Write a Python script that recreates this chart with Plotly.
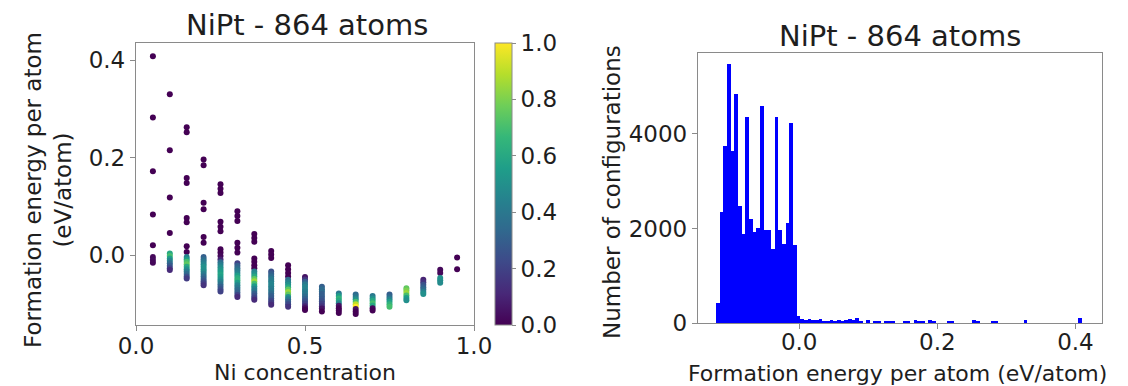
import numpy as np
import plotly.graph_objects as go

# ---- Left panel: formation energy vs Ni concentration ----
ni_conc = [0.05, 0.10, 0.15, 0.20, 0.25, 0.30, 0.35, 0.40, 0.45, 0.50,
           0.55, 0.60, 0.65, 0.70, 0.75, 0.80, 0.85, 0.90, 0.95]

formation_energy = [
    [0.408, 0.282, 0.172, 0.083, 0.020, -0.004, -0.010, -0.016],
    [0.330, 0.215, 0.118, 0.045, 0.003, -0.002, -0.007, -0.012, -0.017, -0.022, -0.027, -0.031],
    [0.262, 0.252, 0.158, 0.148, 0.076, 0.067, 0.018, 0.006,
     -0.004, -0.009, -0.014, -0.019, -0.024, -0.029, -0.034, -0.039, -0.044, -0.048],
    [0.196, 0.184, 0.107, 0.094, 0.037, 0.025,
     -0.004, -0.009, -0.014, -0.019, -0.024, -0.029, -0.034, -0.039, -0.044, -0.049, -0.054, -0.058, -0.062],
    [0.145, 0.136, 0.127, 0.068, 0.058, 0.049, 0.012, 0.005, -0.002, -0.009,
     -0.015, -0.020, -0.025, -0.030, -0.035, -0.040, -0.045, -0.050, -0.055, -0.060, -0.065, -0.070, -0.075],
    [0.090, 0.080, 0.070, 0.025, 0.015, 0.005,
     -0.017, -0.022, -0.027, -0.032, -0.037, -0.042, -0.047, -0.052, -0.057, -0.062, -0.067, -0.072, -0.077, -0.082, -0.086],
    [0.043, 0.035, 0.027, -0.007, -0.014, -0.021, -0.027,
     -0.034, -0.039, -0.044, -0.049, -0.054, -0.059, -0.064, -0.069, -0.074, -0.079, -0.084, -0.088, -0.092],
    [0.008, 0.001, -0.006,
     -0.034, -0.039, -0.044, -0.049, -0.054, -0.059, -0.064, -0.069, -0.074, -0.079, -0.084, -0.089, -0.094, -0.098, -0.102],
    [-0.021, -0.029, -0.037, -0.044,
     -0.051, -0.056, -0.061, -0.066, -0.071, -0.076, -0.081, -0.086, -0.091, -0.096, -0.101, -0.106],
    [-0.045, -0.050, -0.055, -0.060, -0.065, -0.070, -0.075, -0.080, -0.085, -0.090, -0.095, -0.100, -0.105, -0.109, -0.113],
    [-0.065, -0.070, -0.075, -0.080, -0.085, -0.090, -0.095, -0.100, -0.105, -0.110, -0.116],
    [-0.079, -0.084, -0.089, -0.094, -0.099, -0.104, -0.109, -0.114, -0.119],
    [-0.081, -0.086, -0.091, -0.096, -0.101, -0.106, -0.111, -0.116, -0.121],
    [-0.084, -0.089, -0.094, -0.099, -0.104, -0.109, -0.114],
    [-0.081, -0.086, -0.091, -0.096, -0.101, -0.106],
    [-0.068, -0.073, -0.078, -0.083, -0.088, -0.093],
    [-0.051, -0.056, -0.061, -0.066, -0.071, -0.076, -0.080],
    [-0.030, -0.037, -0.047, -0.052, -0.057],
    [-0.005, -0.029],
]

config_weight = [
    [0, 0, 0, 0, 0, 0.02, 0.03, 0.02],
    [0, 0, 0, 0, 0.60, 0.70, 0.55, 0.45, 0.35, 0.28, 0.20, 0.12],
    [0, 0, 0, 0, 0, 0, 0, 0,
     0.45, 0.55, 0.70, 0.75, 0.60, 0.50, 0.42, 0.35, 0.25, 0.18],
    [0, 0, 0, 0, 0, 0,
     0.30, 0.35, 0.40, 0.45, 0.50, 0.50, 0.48, 0.42, 0.35, 0.30, 0.25, 0.20, 0.15],
    [0, 0, 0, 0, 0, 0, 0, 0, 0.02, 0.10,
     0.35, 0.42, 0.48, 0.52, 0.55, 0.58, 0.55, 0.50, 0.45, 0.38, 0.30, 0.25, 0.20],
    [0, 0, 0, 0, 0, 0,
     0.20, 0.30, 0.35, 0.40, 0.45, 0.55, 0.62, 0.65, 0.55, 0.45, 0.40, 0.35, 0.30, 0.20, 0.12],
    [0, 0, 0, 0, 0, 0, 0,
     0.45, 0.50, 0.60, 0.75, 0.85, 0.70, 0.55, 0.45, 0.40, 0.30, 0.25, 0.20, 0.12],
    [0, 0, 0,
     0.25, 0.30, 0.35, 0.40, 0.42, 0.45, 0.45, 0.42, 0.40, 0.35, 0.30, 0.28, 0.22, 0.18, 0.12],
    [0, 0, 0, 0,
     0.35, 0.45, 0.50, 0.60, 0.75, 0.85, 0.75, 0.50, 0.40, 0.30, 0.22, 0.15],
    [0.05, 0.15, 0.30, 0.40, 0.45, 0.45, 0.42, 0.40, 0.35, 0.30, 0.25, 0.20, 0.10, 0.03, 0.0],
    [0.30, 0.35, 0.35, 0.30, 0.30, 0.28, 0.25, 0.20, 0.15, 0.05, 0.0],
    [0.40, 0.55, 0.65, 0.60, 0.45, 0.05, 0.0, 0.0, 0.0],
    [0.35, 0.40, 0.50, 0.70, 0.90, 1.0, 0.05, 0.0, 0.0],
    [0.40, 0.50, 0.60, 0.70, 0.60, 0.02, 0.0],
    [0.30, 0.35, 0.45, 0.55, 0.65, 0.70],
    [0.75, 0.80, 0.85, 0.70, 0.55, 0.50],
    [0.10, 0.15, 0.25, 0.30, 0.35, 0.45, 0.50],
    [0.02, 0.02, 0.50, 0.50, 0.48],
    [0, 0],
]

# ---- Right panel: histogram of formation energies ----
hist_first_edge = -0.1203
hist_bin_width = 0.0053
config_counts = [
    425, 2356, 3753, 5478, 3636, 4854, 2470, 1888, 4366, 2195,
    1932, 2004, 4600, 1968, 1968, 1566, 4350, 1968, 1676, 2110,
    4233, 1651, 148, 80, 60, 90, 70, 60, 90, 40,
    50, 70, 30, 60, 50, 70, 80, 60, 110, 40,
    0, 60, 0, 50, 40, 0, 50, 40, 50, 0,
    0, 40, 50, 0, 60, 40, 30, 0, 60, 40,
    0, 0, 0, 50, 30, 0, 0, 0, 0, 0,
    70, 40, 0, 0, 0, 40, 40, 0, 0, 0,
    0, 0, 0, 0, 70, 0, 0, 0, 0, 0,
    0, 0, 0, 0, 0, 0, 0, 0, 0, 110,
]

panel_title = "NiPt - 864 atoms"

# ---- build figure ----
W, H = 1128, 386
FONT = "DejaVu Sans"
TXT = "#1e1e1e"
FRAME = "#8a8a8a"

scatter_x = [c for c, es in zip(ni_conc, formation_energy) for _ in es]
scatter_y = [e for es in formation_energy for e in es]
scatter_c = [w for ws in config_weight for w in ws]

bin_centers = hist_first_edge + hist_bin_width * (np.arange(len(config_counts)) + 0.5)

fig = go.Figure()

fig.add_trace(go.Scatter(
    x=scatter_x, y=scatter_y, mode="markers",
    xaxis="x", yaxis="y",
    marker=dict(
        size=6, color=scatter_c, colorscale="Viridis", cmin=0, cmax=1,
        line=dict(width=0),
        colorbar=dict(
            x=495 / W, xanchor="left", y=(H - 325) / H, yanchor="bottom",
            len=282 / H, lenmode="fraction", thickness=17, thicknessmode="pixels",
            outlinewidth=1, outlinecolor=FRAME, xpad=0, ypad=0,
            tickvals=[0, 0.2, 0.4, 0.6, 0.8, 1.0], tickformat=".1f",
            ticks="outside", ticklen=4, tickcolor=FRAME,
            tickfont=dict(family=FONT, size=23, color=TXT),
        ),
    ),
    showlegend=False,
))

fig.add_trace(go.Bar(
    x=bin_centers, y=config_counts, width=hist_bin_width,
    xaxis="x2", yaxis="y2",
    marker=dict(color="#0000ff", line=dict(width=0)),
    showlegend=False,
))

axis_common = dict(
    showline=True, mirror=True, linecolor=FRAME, linewidth=1.3,
    showgrid=False, zeroline=False, ticks="outside", ticklen=5,
    tickcolor=FRAME, tickfont=dict(family=FONT, size=23, color=TXT),
)

fig.update_layout(
    width=W, height=H,
    margin=dict(l=0, r=0, t=0, b=0, autoexpand=False),
    paper_bgcolor="white", plot_bgcolor="white",
    bargap=0,
    xaxis=dict(domain=[136 / W, 474 / W], range=[0, 1], anchor="y",
               tickvals=[0, 0.5, 1.0], tickformat=".1f", ticklabelstandoff=-5,
               **axis_common),
    yaxis=dict(domain=[(H - 325) / H, (H - 43) / H], range=[-0.1436, 0.435], anchor="x",
               tickvals=[0, 0.2, 0.4], tickformat=".1f", **axis_common),
    xaxis2=dict(domain=[698 / W, 1102 / W], range=[-0.1465, 0.4385], anchor="y2",
                tickvals=[0, 0.2, 0.4], tickformat=".1f", ticklabelstandoff=-7,
                **axis_common),
    yaxis2=dict(domain=[(H - 323) / H, (H - 53) / H], range=[0, 5714], anchor="x2",
                tickvals=[0, 2000, 4000], ticktext=["0", "2000", "4000"], **axis_common),
)

def label(text, x, y, size=23, angle=0):
    fig.add_annotation(
        text=text, x=x / W, y=(H - y) / H, xref="paper", yref="paper",
        xanchor="center", yanchor="middle", showarrow=False, textangle=angle,
        font=dict(family=FONT, size=size, color=TXT),
    )

label(panel_title, 307, 25, size=29)
label(panel_title, 900, 36, size=29)
label("Ni concentration", 305, 372, size=22)
label("Formation energy per atom<br>(eV/atom)", 48, 190, angle=-90)
label("Number of configurations", 612, 192, angle=-90)
label("Formation energy per atom (eV/atom)", 897, 373, size=22)

fig.write_html("out.html")
